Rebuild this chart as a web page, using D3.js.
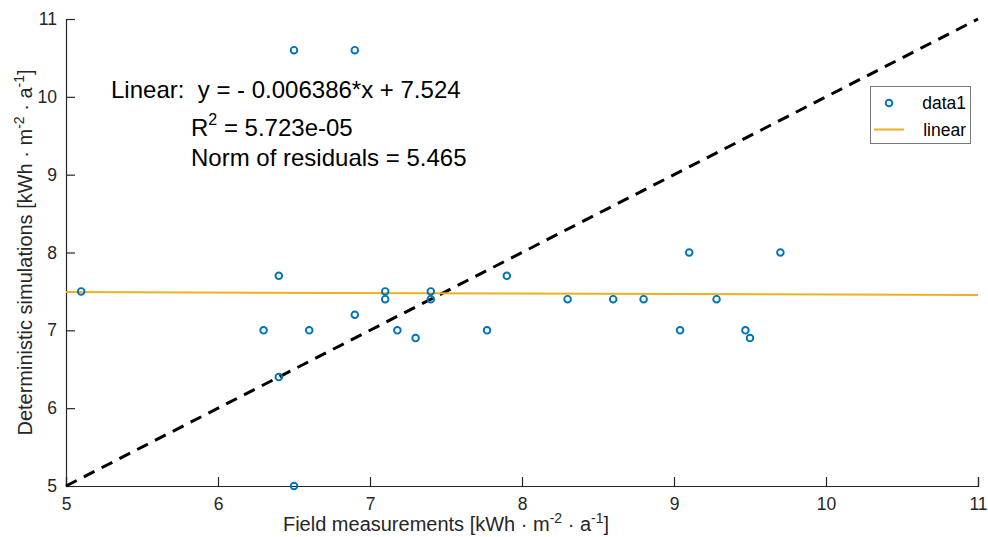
<!DOCTYPE html>
<html>
<head>
<meta charset="utf-8">
<script src="https://cdn.jsdelivr.net/npm/d3@7"></script>
<style>
  html, body { margin: 0; padding: 0; background: #fff; }
  svg { display: block; font-family: "Liberation Sans", Arial, Helvetica, sans-serif; }
  text { white-space: pre; }
</style>
</head>
<body>
<svg id="chart" width="988" height="537"></svg>
<script>
// Field measurements vs deterministic simulations (kWh·m^-2·a^-1)
const fieldMeasured = [5.1, 6.5, 6.9, 6.4, 6.3, 6.6, 6.4, 6.5,
                       6.9, 7.1, 7.1, 7.18, 7.3, 7.4, 7.4, 7.77, 7.9,
                       8.3, 8.6, 8.8, 9.1, 9.7, 9.28, 9.04, 9.47, 9.5];
const simulated     = [7.5, 10.6, 10.6, 7.7, 7.0, 7.0, 6.4, 5.0,
                       7.2, 7.5, 7.4, 7.0, 6.9, 7.5, 7.4, 7.0, 7.7,
                       7.4, 7.4, 7.4, 8.0, 8.0, 7.4, 7.0, 7.0, 6.9];

// Linear fit coefficients and statistics
const fitSlope = -0.006386;
const fitIntercept = 7.524;
const fitLines = ["Linear:  y = - 0.006386*x + 7.524", " = 5.723e-05", "Norm of residuals = 5.465"];

const xTicks = [5, 6, 7, 8, 9, 10, 11];
const yTicks = [5, 6, 7, 8, 9, 10, 11];
const xDomain = [5, 11];
const yDomain = [5, 11];

const svg = d3.select("#chart");
const axisColor = "#262626";
const blue = "#0072BD";
const orange = "#EDB120";

const x = d3.scaleLinear().domain(xDomain).range([66, 978]);
const y = d3.scaleLinear().domain(yDomain).range([486, 19]);

// Axes (ticks pointing inward)
const xAxis = svg.append("g").attr("transform", `translate(0,${y(5)})`)
  .call(d3.axisBottom(x).tickValues(xTicks).tickSize(-9).tickPadding(12).tickFormat(d3.format("d")));
const yAxis = svg.append("g").attr("transform", `translate(${x(5)},0)`)
  .call(d3.axisLeft(y).tickValues(yTicks).tickSize(-9).tickPadding(9).tickFormat(d3.format("d")));
[xAxis, yAxis].forEach(g => {
  g.select(".domain").attr("stroke", axisColor).attr("stroke-width", 1.2);
  g.selectAll(".tick line").attr("stroke", axisColor).attr("stroke-width", 1.2);
  g.selectAll(".tick text").attr("fill", axisColor).attr("font-size", 17.5)
    .attr("font-family", "'Liberation Sans', Arial, sans-serif");
});
xAxis.selectAll(".tick text").attr("dy", "0.71em");

// 1:1 reference line
svg.append("line")
  .attr("x1", x(xDomain[0])).attr("y1", y(xDomain[0]))
  .attr("x2", x(xDomain[1])).attr("y2", y(xDomain[1]))
  .attr("stroke", "#000").attr("stroke-width", 3)
  .attr("stroke-dasharray", "12,8");

// Fitted linear trend
const fitX = [xDomain[0], xDomain[1]];
svg.append("path")
  .datum(fitX)
  .attr("fill", "none").attr("stroke", orange).attr("stroke-width", 2)
  .attr("d", d3.line().x(d => x(d)).y(d => y(fitSlope * d + fitIntercept)));

// Data points
svg.append("g").selectAll("circle")
  .data(fieldMeasured.map((v, i) => [v, simulated[i]]))
  .join("circle")
  .attr("cx", d => x(d[0])).attr("cy", d => y(d[1]))
  .attr("r", 3.3).attr("fill", "none").attr("stroke", blue).attr("stroke-width", 1.9);

// Fit annotation
const ann = svg.append("g").attr("font-size", 24).attr("fill", "#000");
ann.append("text").attr("x", 111).attr("y", 98).text(fitLines[0]);
const r2 = ann.append("text").attr("x", 191).attr("y", 136);
r2.append("tspan").text("R");
r2.append("tspan").attr("font-size", 16).attr("dy", -11).text("2");
r2.append("tspan").attr("dy", 11).text(fitLines[1]);
ann.append("text").attr("x", 191).attr("y", 166).text(fitLines[2]);

// Axis labels with superscripts
function unitLabel(sel, prefix) {
  sel.append("tspan").text(prefix + " [kWh \u00B7 m");
  sel.append("tspan").attr("font-size", 14).attr("dy", -8).text("-2");
  sel.append("tspan").attr("dy", 8).text(" \u00B7 a");
  sel.append("tspan").attr("font-size", 14).attr("dy", -8).text("-1");
  sel.append("tspan").attr("dy", 8).text("]");
}
const xl = svg.append("text").attr("x", x(7.5)).attr("y", 531)
  .attr("text-anchor", "middle").attr("font-size", 20).attr("fill", axisColor);
unitLabel(xl, "Field measurements");
const yl = svg.append("text")
  .attr("transform", `translate(32,${(y(5) + y(11)) / 2}) rotate(-90)`)
  .attr("text-anchor", "middle").attr("font-size", 20).attr("fill", axisColor);
unitLabel(yl, "Deterministic simulations");

// Legend
const leg = svg.append("g");
leg.append("rect").attr("x", 870.5).attr("y", 86.5).attr("width", 100).attr("height", 57)
  .attr("fill", "#fff").attr("stroke", "#7a7a7a").attr("stroke-width", 1);
leg.append("circle").attr("cx", 889).attr("cy", 103).attr("r", 3.3)
  .attr("fill", "none").attr("stroke", blue).attr("stroke-width", 1.9);
leg.append("text").attr("x", 966).attr("y", 109).attr("text-anchor", "end")
  .attr("font-size", 17.5).attr("fill", "#000").text("data1");
leg.append("line").attr("x1", 874).attr("x2", 904).attr("y1", 129.5).attr("y2", 129.5)
  .attr("stroke", orange).attr("stroke-width", 2);
leg.append("text").attr("x", 966).attr("y", 136).attr("text-anchor", "end")
  .attr("font-size", 17.5).attr("fill", "#000").text("linear");
</script>
</body>
</html>
